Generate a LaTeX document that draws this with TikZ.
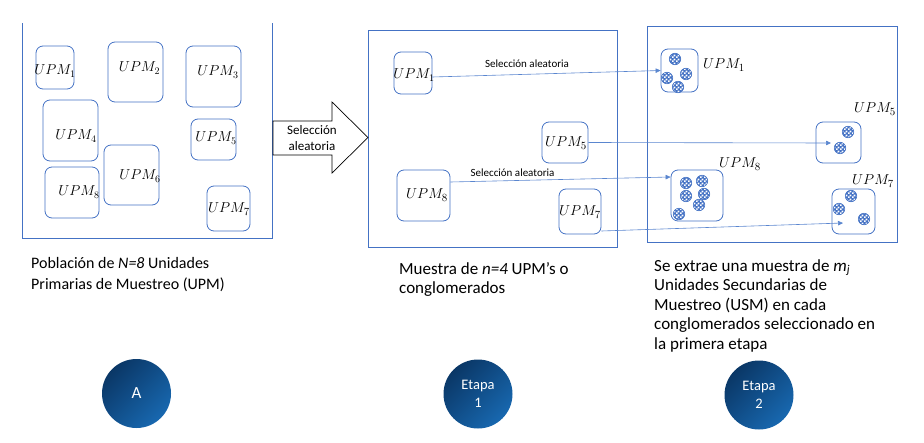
\documentclass[tikz,border=0pt]{standalone}
\usepackage[no-math]{fontspec}
\setmainfont{Carlito}
\usetikzlibrary{arrows.meta,patterns.meta,calc}

\definecolor{ublue}{HTML}{4472C4}
\definecolor{lblue}{HTML}{5A86CF}
\definecolor{cdark}{HTML}{0A3766}
\definecolor{clight}{HTML}{1868B0}

\tikzdeclarepattern{
  name=smallchecks,
  type=uncolored,
  bounding box={(0pt,0pt) and (4pt,4pt)},
  tile size={(4pt,4pt)},
  code={
    \fill (0pt,0pt) rectangle (2pt,2pt);
    \fill (2pt,2pt) rectangle (4pt,4pt);
  }
}

\tikzset{
  frame/.style={draw=ublue, line width=0.9pt},
  upmbox/.style={draw=ublue, line width=0.8pt, rounded corners=7pt, rectangle, inner sep=0pt},
  upmlab/.style={inner sep=0pt, font=\fontsize{14}{17}\selectfont},
  upmlabb/.style={inner sep=0pt, font=\fontsize{15}{18}\selectfont},
  usm/.style={circle, draw=ublue, line width=0.6pt, minimum size=11.5pt, inner sep=0pt,
    preaction={fill=ublue}, pattern=smallchecks, pattern color=white},
  conn/.style={draw=lblue, line width=0.6pt, -{Triangle[length=5pt,width=4.5pt]}},
  sellab/.style={font=\fontsize{11}{13}\selectfont, inner sep=0pt},
  caption/.style={anchor=base west, align=left, inner sep=0pt},
  stage/.style={circle, minimum size=69pt, inner sep=0pt, top color=cdark, bottom color=clight,
    shading angle=45, text=white, align=center}
}

\begin{document}
\begin{tikzpicture}[x=1pt,y=-1pt]
\useasboundingbox (0,0) rectangle (924,442);

% ---------- frames ----------
\draw[frame] (22,23) -- (22,238) -- (272,238) -- (272,23);
\draw[frame] (368,30) rectangle (617,247);
\draw[frame] (647,26) rectangle (897,242);

% ---------- population ----------
\node[upmbox, minimum width=38pt, minimum height=43pt] (p1) at (55,67.5) {};
\node[upmbox, minimum width=55pt, minimum height=60pt] (p2) at (135.5,72) {};
\node[upmbox, minimum width=55pt, minimum height=61pt] (p3) at (213.5,76.5) {};
\node[upmbox, minimum width=55pt, minimum height=61pt] (p4) at (70.5,130.5) {};
\node[upmbox, minimum width=45pt, minimum height=41pt] (p5) at (213.5,139.5) {};
\node[upmbox, minimum width=55pt, minimum height=60pt] (p6) at (131.5,175) {};
\node[upmbox, minimum width=54pt, minimum height=51pt] (p8) at (72,192.5) {};
\node[upmbox, minimum width=43pt, minimum height=45pt] (p7) at (228.5,208.5) {};

\node[upmlab] (lp1) at (55,71) {$UPM_1$};
\node[upmlab] (lp2) at (139.5,68) {$UPM_2$};
\node[upmlab] (lp3) at (218,72) {$UPM_3$};
\node[upmlab] (lp4) at (76,136) {$UPM_4$};
\node[upmlab] (lp5) at (216,138) {$UPM_5$};
\node[upmlab] (lp6) at (140,176) {$UPM_6$};
\node[upmlab] (lp8) at (79,192) {$UPM_8$};
\node[upmlabb] (lp7) at (229,209) {$UPM_7$};

% ---------- block arrow ----------
\draw[black, line width=0.7pt, fill=white]
  (273,121) -- (332,121) -- (332,102) -- (368,137.5) -- (332,173) -- (332,155) -- (273,155) -- cycle;
\node[align=center, inner sep=0pt, font=\fontsize{13}{16}\selectfont] (sel) at (312,138) {Selección\\aleatoria};

% ---------- sample ----------
\node[upmbox, minimum width=38pt, minimum height=42pt] (s1) at (413,73) {};
\node[upmbox, minimum width=46pt, minimum height=41pt] (s5) at (565,142.5) {};
\node[upmbox, minimum width=53pt, minimum height=51pt] (s8) at (423.5,195.5) {};
\node[upmbox, minimum width=42pt, minimum height=45pt] (s7) at (580,211.5) {};

\node[upmlab] (ls1) at (414,75) {$UPM_1$};
\node[upmlabb] (ls5) at (566,143) {$UPM_5$};
\node[upmlabb] (ls8) at (427,195) {$UPM_8$};
\node[upmlabb] (ls7) at (580,212) {$UPM_7$};

% ---------- second stage ----------
\node[upmbox, minimum width=37pt, minimum height=43pt] (t1) at (679.5,70.5) {};
\node[upmbox, minimum width=45pt, minimum height=41pt] (t5) at (838.5,142.5) {};
\node[upmbox, minimum width=52pt, minimum height=51pt] (t8) at (697,195.5) {};
\node[upmbox, minimum width=43pt, minimum height=45pt] (t7) at (853.5,211.5) {};

\node[upmlabb] (lt1) at (724,65) {$UPM_1$};
\node[upmlabb] (lt5) at (875,109) {$UPM_5$};
\node[upmlabb] (lt8) at (740,164) {$UPM_8$};
\node[upmlabb] (lt7) at (873,181) {$UPM_7$};

% secondary units
\node[usm] (d11) at (675,59) {};
\node[usm] (d12) at (667,78) {};
\node[usm] (d13) at (686,74) {};
\node[usm] (d14) at (678,87) {};
\node[usm] (d51) at (848,132) {};
\node[usm] (d52) at (840,148) {};
\node[usm] (d81) at (686,183) {};
\node[usm] (d82) at (702,181) {};
\node[usm] (d83) at (686,196) {};
\node[usm] (d84) at (704,194) {};
\node[usm] (d85) at (699,205) {};
\node[usm] (d86) at (679,214) {};
\node[usm] (d71) at (851,196) {};
\node[usm] (d72) at (839,209) {};
\node[usm] (d73) at (864,219) {};

% ---------- connectors ----------
\coordinate (e5) at (831,143);
\coordinate (e7) at (843,223);
\draw[conn] ($(s1.east)+(0,4)$) -- (t1.west);
\draw[conn] (s5.east) -- (e5);
\draw[conn] ($(s8.east)+(0,-13.5)$) -- ($(t8.west)+(0,-18.5)$);
\draw[conn] ($(s7.east)+(0,19.5)$) -- (e7);
\node[sellab] (sl1) at (527,64) {Selección aleatoria};
\node[sellab] (sl8) at (512.5,173) {Selección aleatoria};

% ---------- captions (anchored at the baseline of the last line) ----------
\node[caption, font=\fontsize{16}{20.5}\selectfont] (c1) at (31,289)
  {Población de \textit{N=8} Unidades\\Primarias de Muestreo (UPM)};
\node[caption, font=\fontsize{17}{18.5}\selectfont] (c2) at (399,293)
  {Muestra de \textit{n=4} UPM’s o\\conglomerados};
\node[caption, font=\fontsize{17}{19.5}\selectfont] (c3) at (654,349)
  {Se extrae una muestra de \textit{m}\textsubscript{\textit{j}}\\Unidades Secundarias de\\Muestreo (USM) en cada\\conglomerados seleccionado en\\la primera etapa};

% ---------- stage circles ----------
\node[stage, font=\fontsize{17}{20}\selectfont] (A) at (136.5,393.5) {A};
\node[stage, font=\fontsize{14.5}{18}\selectfont] (E1) at (478,394) {Etapa\\1};
\node[stage, font=\fontsize{14.5}{18}\selectfont] (E2) at (759,395) {Etapa\\2};
\end{tikzpicture}
\end{document}
